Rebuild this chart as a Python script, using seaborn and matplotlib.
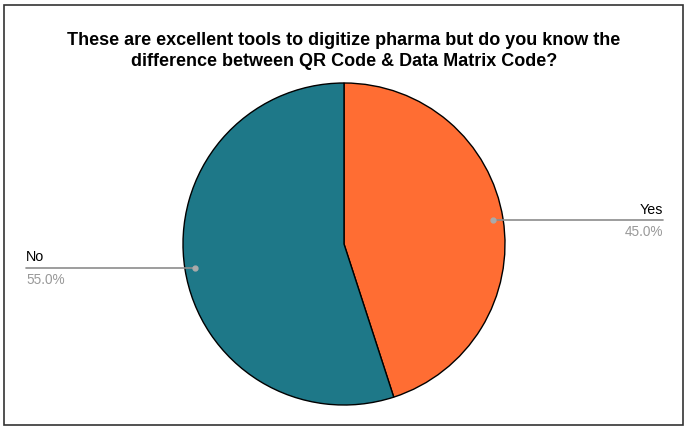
import numpy as np
import matplotlib
matplotlib.use("Agg")
import matplotlib.pyplot as plt
from matplotlib.patches import Rectangle
import seaborn as sns

answers = ["Yes", "No"]
shares = [45.0, 55.0]
colors = ["#FF6D33", "#1E7888"]
title = "These are excellent tools to digitize pharma but do you know the\ndifference between QR Code & Data Matrix Code?"

sns.set_theme(style="white")
plt.rcParams['font.family'] = ['Liberation Sans', 'DejaVu Sans']

fig = plt.figure(figsize=(6.88, 4.30), dpi=100)
ax = fig.add_axes([0, 0, 1, 1])
R = 161.0  # pie radius in pixels
cx, cy = 344, 430 - 244

wedges, _ = ax.pie(shares, colors=colors, startangle=90, counterclock=False,
                   wedgeprops=dict(edgecolor="black", linewidth=1))
ax.set_xlim(-cx / R, (688 - cx) / R)
ax.set_ylim(-cy / R, (430 - cy) / R)
ax.set_aspect("equal")
ax.axis("off")

# leader lines and labels
line_end = {"Yes": (663 - cx) / R, "No": (26 - cx) / R}
for w, name, val in zip(wedges, answers, shares):
    mid = np.deg2rad((w.theta1 + w.theta2) / 2)
    px, py = 0.94 * np.cos(mid), 0.94 * np.sin(mid)
    ex = line_end[name]
    ax.plot([px, ex], [py, py], color="#8C8C8C", lw=1.2, clip_on=False)
    ax.plot(px, py, "o", color="#AAAAAA", ms=3.5, clip_on=False)
    ha = "right" if ex > 0 else "left"
    ax.text(ex, py + 0.02, name, ha=ha, va="bottom", fontsize=10.3, color="black")
    ax.text(ex, py - 0.03, f"{val:.1f}%", ha=ha, va="top", fontsize=9.8, color="#999999")

fig.text(0.5, 0.881, title, ha="center", va="center", fontsize=13,
         fontweight="bold", linespacing=1.3, color="black")

fig.patches.append(Rectangle((4 / 688, 5 / 430), 679 / 688, 420 / 430,
                             transform=fig.transFigure, fill=False,
                             edgecolor="#333333", linewidth=1.2))

fig.savefig("out.png", dpi=100)
